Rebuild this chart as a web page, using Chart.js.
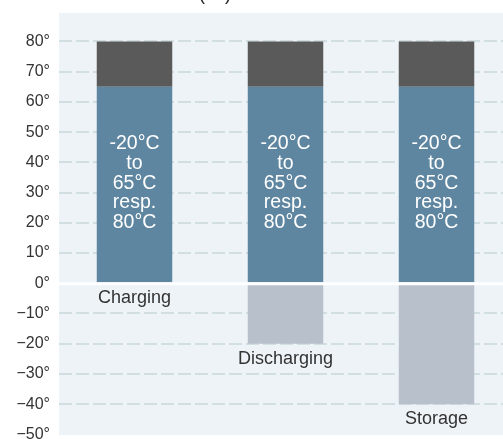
<!DOCTYPE html>
<html>
<head>
<meta charset="utf-8">
<script src="https://cdn.jsdelivr.net/npm/chart.js"></script>
<style>
    html, body { margin: 0; padding: 0; background: #ffffff; overflow: hidden; }
    #tempChart { display: block; }
</style>
</head>
<body>
<canvas id="tempChart" width="512" height="439"></canvas>
<script>
// Data
const categories = ['Charging', 'Discharging', 'Storage'];
const lowerLimit = [0, -20, -40];
const upperLimit = [65, 65, 65];
const extendedLimit = [80, 80, 80];
const tickValues = [80, 70, 60, 50, 40, 30, 20, 10, 0, -10, -20, -30, -40, -50];
const barText = ['-20°C', 'to', '65°C', 'resp.', '80°C'];
const titleText = '(°C)';

const FONT = '"Liberation Sans", Arial, sans-serif';

// plot background + title
const backdrop = {
    id: 'backdrop',
    beforeDraw(chart) {
        const { ctx, chartArea: a } = chart;
        ctx.save();
        ctx.fillStyle = '#eef3f7';
        ctx.fillRect(a.left, a.top, a.right - a.left, a.bottom - a.top);
        ctx.fillStyle = '#222';
        ctx.font = '18px ' + FONT;
        ctx.textAlign = 'center';
        ctx.textBaseline = 'alphabetic';
        ctx.fillText(titleText, 215, 0);
        ctx.restore();
    }
};

// zero line, text in bars, category labels under bar ends
const annotations = {
    id: 'annotations',
    afterDatasetsDraw(chart) {
        const { ctx, chartArea: a } = chart;
        const y = chart.scales.y;
        const x = chart.scales.x;
        ctx.save();

        const y0 = y.getPixelForValue(0);
        ctx.strokeStyle = '#ffffff';
        ctx.lineWidth = 3;
        ctx.beginPath();
        ctx.moveTo(a.left, y0 + 0.5);
        ctx.lineTo(a.right, y0 + 0.5);
        ctx.stroke();

        ctx.textAlign = 'center';
        ctx.textBaseline = 'alphabetic';
        categories.forEach((name, i) => {
            const cx = x.getPixelForValue(i);
            ctx.fillStyle = '#ffffff';
            ctx.font = '19.5px ' + FONT;
            const mid = y.getPixelForValue(upperLimit[i] / 2) + 3.5;
            barText.forEach((line, k) => {
                ctx.fillText(line, cx, mid + (k - 2) * 19.8);
            });
            ctx.fillStyle = '#333333';
            ctx.font = '18px ' + FONT;
            ctx.fillText(name, cx, y.getPixelForValue(lowerLimit[i]) + 20);
        });
        ctx.restore();
    }
};

new Chart(document.getElementById('tempChart'), {
    type: 'bar',
    data: {
        labels: categories,
        datasets: [
            {
                label: 'lower',
                data: lowerLimit,
                backgroundColor: '#b8c0cb'
            },
            {
                label: 'upper',
                data: upperLimit,
                backgroundColor: '#5f86a0'
            },
            {
                label: 'extended',
                data: extendedLimit.map((v, i) => v - upperLimit[i]),
                backgroundColor: '#5a5a5a'
            }
        ]
    },
    options: {
        responsive: false,
        animation: false,
        datasets: {
            bar: { barPercentage: 0.5, categoryPercentage: 1, borderWidth: 0 }
        },
        layout: { padding: { top: 13, bottom: 4, left: 0, right: 0 } },
        plugins: {
            legend: { display: false },
            tooltip: { enabled: false }
        },
        scales: {
            x: {
                stacked: true,
                display: false
            },
            y: {
                stacked: true,
                min: -50.2,
                max: 89.4,
                afterBuildTicks(scale) {
                    scale.ticks = tickValues.map(v => ({ value: v }));
                },
                afterFit(scale) {
                    scale.width = 59;
                    scale.paddingTop = 0;
                    scale.paddingBottom = 0;
                },
                grid: {
                    drawTicks: false,
                    lineWidth: 2,
                    color: ctx => (ctx.tick && (ctx.tick.value === 0 || ctx.tick.value === -50)) ? 'rgba(0,0,0,0)' : '#d2dfe2'
                },
                border: { display: false, dash: [13, 4] },
                ticks: {
                    padding: 9,
                    color: '#333333',
                    font: { family: FONT, size: 16 },
                    callback: v => (v < 0 ? '\u2212' + Math.abs(v) : v) + '°'
                }
            }
        }
    },
    plugins: [backdrop, annotations]
});
</script>
</body>
</html>
